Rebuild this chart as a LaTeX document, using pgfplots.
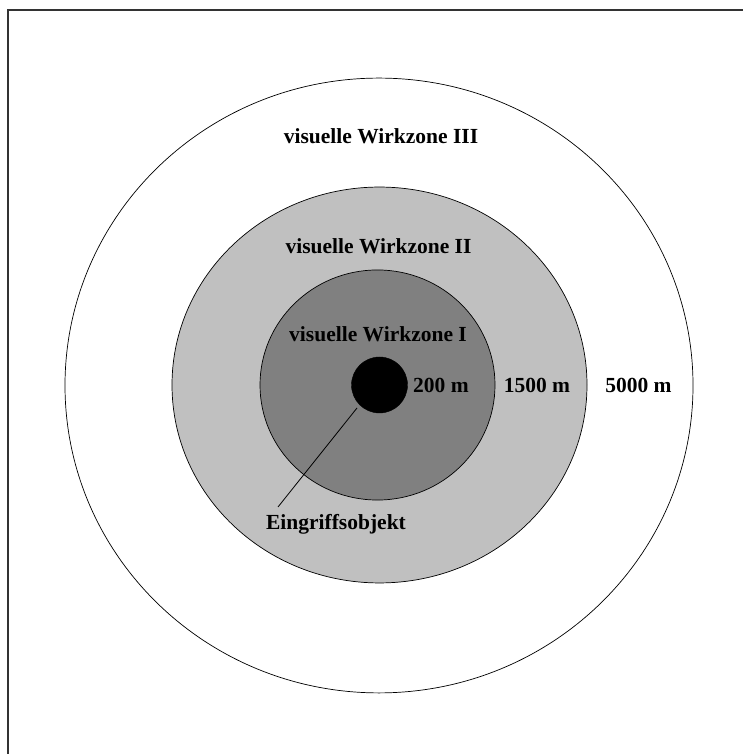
\documentclass[border=0pt]{standalone}
\usepackage{pgfplots}
\pgfplotsset{compat=1.18}
\usepackage{fontspec}
\setmainfont{Liberation Serif}
\definecolor{zoneII}{HTML}{C0C0C0}
\definecolor{zoneI}{HTML}{808080}
\definecolor{frame}{HTML}{333333}
\pgfplotsset{base/.style={
  scale only axis, width=742pt, height=754pt,
  xmin=0, xmax=742, ymin=0, ymax=754,
  hide axis, clip=false}}
\tikzset{lbl/.style={anchor=base, font=\fontsize{21.5}{24}\selectfont\bfseries, text=black, inner sep=0pt}}
\begin{document}
\begin{tikzpicture}
\path[use as bounding box] (0,0) rectangle (742pt,754pt);
\begin{axis}[base]
% frame (top and left edges visible)
\addplot[frame, line width=2pt, no marks] coordinates {(8,-2) (8,744) (744,744)};
% zones as circular marks centred on the object
\addplot[only marks, mark=*, mark size=314pt,
  mark options={fill=white, draw=black, line width=0.7pt, yscale=0.979}] coordinates {(379,368.5)};
\addplot[only marks, mark=*, mark size=207.5pt,
  mark options={fill=zoneII, draw=black, line width=0.7pt, yscale=0.954}] coordinates {(379.5,369)};
\addplot[only marks, mark=*, mark size=117.5pt,
  mark options={fill=zoneI, draw=black, line width=0.7pt, yscale=0.979}] coordinates {(377.5,369)};
\addplot[only marks, mark=*, mark size=28pt,
  mark options={fill=black, draw=black}] coordinates {(379.5,369)};
\end{axis}
\begin{axis}[base]
% leader line
\addplot[black, line width=0.8pt, no marks] coordinates {(357,346) (278,247)};
% labels
\node[lbl] at (axis cs:381,610) {visuelle Wirkzone III};
\node[lbl] at (axis cs:378.5,500) {visuelle Wirkzone II};
\node[lbl] at (axis cs:378,412) {visuelle Wirkzone I};
\node[lbl] at (axis cs:441,361) {200 m};
\node[lbl] at (axis cs:537,361) {1500 m};
\node[lbl] at (axis cs:638.5,361) {5000 m};
\node[lbl] at (axis cs:336,224) {Eingriffsobjekt};
\end{axis}
\end{tikzpicture}
\end{document}
